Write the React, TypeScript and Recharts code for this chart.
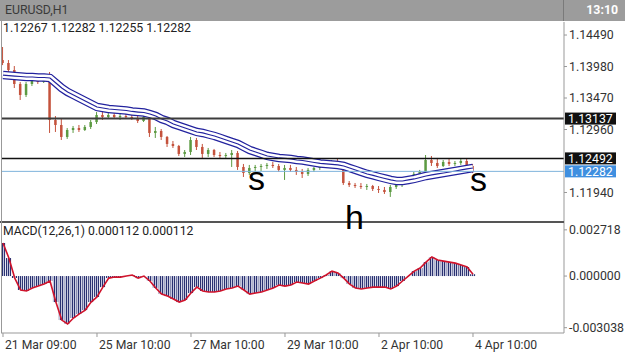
import { Bar, ComposedChart, Line, ReferenceLine, XAxis, YAxis } from "recharts";

// EURUSD, 3-hour buckets
const opens = [
  1.14085, 1.14037, 1.13923, 1.13697, 1.13519, 1.13697, 1.13762, 1.13729, 1.13794, 1.13114,
  1.13033, 1.12839, 1.12952, 1.12984, 1.12952, 1.13001, 1.13081, 1.13195, 1.13162, 1.13195,
  1.13162, 1.13178, 1.13162, 1.13146, 1.13098, 1.13162, 1.12904, 1.12936, 1.12839, 1.12726,
  1.12693, 1.12564, 1.12596, 1.1279, 1.12677, 1.12564, 1.12628, 1.12547, 1.12531, 1.12547,
  1.1258, 1.12353, 1.12256, 1.12337, 1.12353, 1.12369, 1.12386, 1.12369, 1.12305, 1.12337,
  1.12305, 1.12272, 1.1224, 1.12305, 1.12337, 1.12353, 1.12402, 1.12434, 1.12402, 1.12094,
  1.12062, 1.12045, 1.12029, 1.12045, 1.11997, 1.11981, 1.11948, 1.12029, 1.12078, 1.1211,
  1.12143, 1.1224, 1.12272, 1.12466, 1.12418, 1.12369, 1.12434, 1.12402, 1.12418, 1.1245,
  1.12369,
];
const highs = [
  1.14296, 1.14085, 1.13988, 1.13729, 1.13729, 1.13794, 1.1381, 1.13826, 1.13891, 1.13178,
  1.13146, 1.12984, 1.13017, 1.13033, 1.13033, 1.13114, 1.13243, 1.13243, 1.13227, 1.13227,
  1.13211, 1.13211, 1.13195, 1.13195, 1.1326, 1.13195, 1.13001, 1.12968, 1.12855, 1.12774,
  1.1271, 1.12628, 1.12839, 1.12823, 1.12726, 1.12661, 1.12645, 1.12596, 1.1258, 1.12628,
  1.12612, 1.12402, 1.12386, 1.12386, 1.12402, 1.12418, 1.12434, 1.12402, 1.12386, 1.12386,
  1.12353, 1.12321, 1.12337, 1.12353, 1.12386, 1.12418, 1.12466, 1.12483, 1.12434, 1.12126,
  1.12094, 1.12094, 1.12078, 1.12062, 1.12045, 1.12029, 1.12062, 1.1211, 1.12143, 1.12175,
  1.12272, 1.12305, 1.12547, 1.12531, 1.12499, 1.12466, 1.12483, 1.1245, 1.12483, 1.12483,
  1.12402,
];
const lows = [
  1.14003, 1.13891, 1.13632, 1.13438, 1.13486, 1.13664, 1.13697, 1.13713, 1.12904, 1.1292,
  1.1279, 1.12807, 1.12904, 1.1292, 1.12936, 1.12968, 1.13049, 1.13114, 1.1313, 1.13146,
  1.13114, 1.1313, 1.13114, 1.13065, 1.13081, 1.12839, 1.12823, 1.1279, 1.12677, 1.12661,
  1.12531, 1.12515, 1.12547, 1.12628, 1.12499, 1.12515, 1.12515, 1.12499, 1.12499, 1.12353,
  1.12305, 1.12191, 1.12224, 1.12272, 1.12288, 1.12321, 1.12337, 1.12272, 1.12143, 1.12272,
  1.12224, 1.12175, 1.12207, 1.12272, 1.12305, 1.12337, 1.12369, 1.12369, 1.12062, 1.12029,
  1.12013, 1.11997, 1.11981, 1.11964, 1.11932, 1.11916, 1.11868, 1.11997, 1.12029, 1.12078,
  1.12126, 1.12191, 1.12256, 1.12369, 1.12337, 1.12353, 1.12369, 1.12369, 1.12386, 1.12337,
  1.12255,
];
const closes = [
  1.14037, 1.13923, 1.13697, 1.13519, 1.13697, 1.13762, 1.13729, 1.13794, 1.13114, 1.13033,
  1.12839, 1.12952, 1.12984, 1.12952, 1.13001, 1.13081, 1.13195, 1.13162, 1.13195, 1.13162,
  1.13178, 1.13162, 1.13146, 1.13098, 1.13162, 1.12904, 1.12936, 1.12839, 1.12726, 1.12693,
  1.12564, 1.12596, 1.1279, 1.12677, 1.12564, 1.12628, 1.12547, 1.12531, 1.12547, 1.1258,
  1.12353, 1.12256, 1.12337, 1.12353, 1.12369, 1.12386, 1.12369, 1.12305, 1.12337, 1.12305,
  1.12272, 1.1224, 1.12305, 1.12337, 1.12353, 1.12402, 1.12434, 1.12402, 1.12094, 1.12062,
  1.12045, 1.12029, 1.12045, 1.11997, 1.11981, 1.11948, 1.12029, 1.12078, 1.1211, 1.12143,
  1.1224, 1.12272, 1.12466, 1.12418, 1.12369, 1.12434, 1.12402, 1.12418, 1.1245, 1.12369,
  1.12282,
];
const envelope = [
  1.13842, 1.13834, 1.13826, 1.13818, 1.1381, 1.1381, 1.13802, 1.13802, 1.13794, 1.13713,
  1.13632, 1.13567, 1.13519, 1.1347, 1.13422, 1.13373, 1.13324, 1.13308, 1.13292, 1.13284,
  1.13276, 1.13268, 1.13252, 1.13243, 1.13235, 1.13211, 1.13178, 1.1313, 1.13098, 1.13049,
  1.13017, 1.12984, 1.12952, 1.1292, 1.12904, 1.12879, 1.12855, 1.12823, 1.1279, 1.12758,
  1.12726, 1.12677, 1.12628, 1.12596, 1.12564, 1.12531, 1.12515, 1.12499, 1.12491, 1.12483,
  1.12466, 1.12458, 1.12442, 1.12426, 1.1241, 1.12402, 1.12394, 1.12386, 1.12369, 1.12337,
  1.12305, 1.12272, 1.1224, 1.12216, 1.12191, 1.12167, 1.12143, 1.12126, 1.12126, 1.12143,
  1.12159, 1.12183, 1.12207, 1.12224, 1.1224, 1.12256, 1.12272, 1.12288, 1.12305, 1.12321,
  1.12337,
];
const macd = [
  0.00194, 0.00106, -0.00012, -0.00082, -0.00088, -0.0007, -0.00059, -0.00047, -0.00029, -0.00153,
  -0.00259, -0.00282, -0.00247, -0.00223, -0.002, -0.00153, -0.00123, -0.00065, -0.00012, -0.00006,
  -0.00006, 0.0, 0.00006, -0.00012, 0.0, -0.00029, -0.0007, -0.00106, -0.00118, -0.00135,
  -0.00153, -0.00141, -0.001, -0.00065, -0.00088, -0.00094, -0.00094, -0.00088, -0.00076, -0.0007,
  -0.00059, -0.00082, -0.00106, -0.001, -0.00094, -0.00082, -0.0007, -0.00053, -0.00059, -0.00053,
  -0.00035, -0.00041, -0.00047, -0.00029, -0.00012, 0.00006, 0.00029, 0.00018, -0.00012, -0.00047,
  -0.0007, -0.00076, -0.0007, -0.00065, -0.00065, -0.00065, -0.00076, -0.00059, -0.00029, 0.0,
  0.00029, 0.00047, 0.00082, 0.00112, 0.00094, 0.00088, 0.00082, 0.00076, 0.00065, 0.00053,
  0.00011,
];

const dateTicks = [0, 16, 32, 48, 64, 80];
const dateLabels = ["21 Mar 09:00", "25 Mar 10:00", "27 Mar 10:00", "29 Mar 10:00", "2 Apr 10:00", "4 Apr 10:00"];
const priceTicks = [1.1194, 1.1296, 1.1347, 1.1398, 1.1449];
const macdTicks = [-0.003038, 0, 0.002718];
const upperLevel = 1.13137;
const lowerLevel = 1.12492;
const bid = 1.12282;

const rows = closes.map((c, i) => ({
  i,
  range: [lows[i], highs[i]],
  open: opens[i],
  high: highs[i],
  low: lows[i],
  close: c,
  ma: envelope[i],
  macd: macd[i],
}));

const xDomain = [-0.34, 95.49];
const font = "Roboto, 'Noto Sans', sans-serif";

const Candle = (props: any) => {
  const { x, y, width, height, payload } = props;
  const { open, close, high, low } = payload;
  const top = Math.min(y, y + height);
  const h = Math.abs(height);
  const k = high > low ? h / (high - low) : 0;
  const bTop = top + (high - Math.max(open, close)) * k;
  const bBot = top + (high - Math.min(open, close)) * k;
  const cx = x + width / 2;
  const col = close >= open ? "#5c9a42" : "#c4523c";
  return (
    <g>
      <line x1={cx} x2={cx} y1={top} y2={top + h} stroke={col} strokeWidth={1} />
      <rect x={cx - 1.25} y={bTop} width={2.5} height={Math.max(1, bBot - bTop)} fill={col} />
    </g>
  );
};

const LevelTag = (props: any) => {
  const { viewBox, text, fill } = props;
  const x = viewBox.x + viewBox.width + 1;
  return (
    <g>
      <rect x={x} y={viewBox.y - 6} width={51} height={12} fill={fill} />
      <text x={x + 3} y={viewBox.y + 4.5} fill="#fff" fontSize={12.3} fontFamily={font}>
        {text}
      </text>
    </g>
  );
};

const DateTick = (props: any) => {
  const { x, y, payload } = props;
  return (
    <text x={x + 2} y={y + 9.5} fontSize={12.2} fill="#333" fontFamily={font}>
      {dateLabels[dateTicks.indexOf(payload.value)]}
    </text>
  );
};

export default function App() {
  return (
    <div style={{ position: "absolute", left: 0, top: 0, width: 625, height: 352, background: "#fff", overflow: "hidden", fontFamily: font }}>
      <div style={{ position: "absolute", left: 0, top: 0 }}>
        <ComposedChart width={625} height={222} data={rows} margin={{ top: 22, right: 0, left: 1, bottom: 0 }}>
          <XAxis dataKey="i" type="number" domain={xDomain} hide />
          <YAxis
            orientation="right"
            width={61}
            domain={[1.11462, 1.14701]}
            ticks={priceTicks}
            interval={0}
            tickFormatter={(v: number) => v.toFixed(5)}
            tick={{ fontSize: 12.3, fill: "#333", fontFamily: font }}
            tickSize={3}
            stroke="#999"
            allowDataOverflow
          />
          <Line dataKey="ma" stroke="#22229e" strokeWidth={8.5} dot={false} isAnimationActive={false} />
          <Line dataKey="ma" stroke="#ffffff" strokeWidth={6} dot={false} isAnimationActive={false} />
          <Bar dataKey="range" barSize={5} shape={<Candle />} isAnimationActive={false} />
          <Line dataKey="ma" stroke="#22229e" strokeWidth={1.2} dot={false} isAnimationActive={false} />
          <ReferenceLine y={upperLevel} stroke="#3c3c3c" strokeWidth={2} label={<LevelTag text={upperLevel.toFixed(5)} fill="#111" />} />
          <ReferenceLine y={lowerLevel} stroke="#111" strokeWidth={1.5} label={<LevelTag text={lowerLevel.toFixed(5)} fill="#111" />} />
          <ReferenceLine y={bid} stroke="#7fb3dc" strokeWidth={1} label={<LevelTag text={bid.toFixed(5)} fill="#3f8fe0" />} />
        </ComposedChart>
      </div>
      <div style={{ position: "absolute", left: 0, top: 222 }}>
        <ComposedChart width={625} height={130} data={rows} margin={{ top: 0, right: 0, left: 1, bottom: 0 }}>
          <defs>
            <pattern id="macdStripes" width="2" height="4" patternUnits="userSpaceOnUse">
              <rect width="2" height="4" fill="#c3c6dc" />
              <rect width="1" height="4" fill="#2a3272" />
            </pattern>
          </defs>
          <XAxis
            dataKey="i"
            type="number"
            domain={xDomain}
            ticks={dateTicks}
            interval={0}
            height={19}
            tickSize={4}
            stroke="#999"
            tick={<DateTick />}
            allowDataOverflow
          />
          <YAxis
            orientation="right"
            width={61}
            domain={[-0.00335, 0.00318]}
            ticks={macdTicks}
            interval={0}
            tickFormatter={(v: number) => v.toFixed(6)}
            tick={{ fontSize: 12.3, fill: "#333", fontFamily: font }}
            tickSize={3}
            stroke="#999"
            allowDataOverflow
          />
          <Bar dataKey="macd" barSize={6} fill="url(#macdStripes)" isAnimationActive={false} />
          <Line dataKey="macd" stroke="#d0142c" strokeWidth={1.6} dot={false} isAnimationActive={false} />
        </ComposedChart>
      </div>
      {/* frame lines */}
      <div style={{ position: "absolute", left: 0, top: 221, width: 564, height: 2, background: "#555" }} />
      <div style={{ position: "absolute", left: 1, top: 21, width: 1, height: 312, background: "#999" }} />
      <div style={{ position: "absolute", left: 0, top: 0, width: 625, height: 21, background: "#9c9c9c" }}>
        <span style={{ position: "absolute", left: 5, top: 3, fontSize: 12.3, color: "#3a3a3a" }}>EURUSD,H1</span>
        <span style={{ position: "absolute", right: 7, top: 3, fontSize: 12.3, color: "#fff", fontWeight: 700 }}>13:10</span>
        <div style={{ position: "absolute", left: 563, top: 0, width: 1, height: 21, background: "#7a7a7a" }} />
      </div>
      <div style={{ position: "absolute", left: 3, top: 21, fontSize: 12.3, color: "#222" }}>1.12267 1.12282 1.12255 1.12282</div>
      <div style={{ position: "absolute", left: 3, top: 224, fontSize: 12.2, color: "#222" }}>MACD(12,26,1) 0.000112 0.000112</div>
      <svg width={625} height={352} style={{ position: "absolute", left: 0, top: 0, pointerEvents: "none" }}>
        <g fontFamily="'Liberation Sans', Arial, sans-serif" fontSize={34} fill="#000">
          <text x={248} y={190}>s</text>
          <text x={345} y={229}>h</text>
          <text x={470} y={191}>s</text>
        </g>
      </svg>
    </div>
  );
}
